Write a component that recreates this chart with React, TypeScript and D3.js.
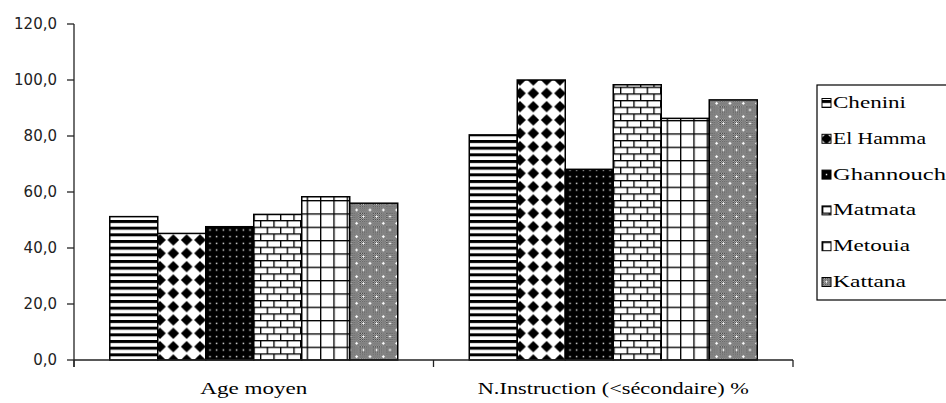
import React from 'react';
import * as d3 from 'd3';

const categories = ['Age moyen', 'N.Instruction (<sécondaire) %'];
const series = ['Chenini', 'El Hamma', 'Ghannouch', 'Matmata', 'Metouia', 'Kattana'];
const ageMoyen = [51.2, 45.2, 47.6, 52.0, 58.3, 56.0];
const instruction = [80.4, 100.0, 68.1, 98.3, 86.3, 92.9];
const yTicks = [0, 20, 40, 60, 80, 100, 120];

const W = 946;
const H = 403;
const LEFT = 74;
const RIGHT = 793;
const TOP = 24;
const BASE = 360;

const catLabelWidths = [107, 271];
const legendLabelWidths = [73, 93, 113, 83, 77, 73];
const keyOffsets = [[0, -1.5], [-4.5, -4.5], [-1.17, -1.17], [0, 0], [0, 0], [-1, -1]];
const SERIF = 'Liberation Serif';

const fmt = (v: number) => d3.format('.1f')(v).replace('.', ',');

function Patterns() {
  const P = 6.667;
  const Q = 13.333;
  const lw = 1.33;
  return (
    <defs>
      <pattern id="p0" patternUnits="userSpaceOnUse" width={10} height={P}>
        <rect width={10} height={P} fill="#fff" />
        <rect width={10} height={3} fill="#000" />
      </pattern>
      <pattern id="p1" patternUnits="userSpaceOnUse" width={Q} height={Q}>
        <rect width={Q} height={Q} fill="#fff" />
        {[[0, 0], [Q, 0], [0, Q], [Q, Q]].map(([cx, cy], i) => (
          <path key={i} d={`M${cx - 5.8},${cy} L${cx},${cy - 5.8} L${cx + 5.8},${cy} L${cx},${cy + 5.8} Z`} fill="#000" />
        ))}
      </pattern>
      <pattern id="p2" patternUnits="userSpaceOnUse" width={P} height={P}>
        <rect width={P} height={P} fill="#000" />
        <rect x={P / 2 - 0.7} y={P / 2 - 0.7} width={1.4} height={1.4} fill="#fff" />
      </pattern>
      <pattern id="p3" patternUnits="userSpaceOnUse" width={Q} height={Q}>
        <rect width={Q} height={Q} fill="#fff" />
        <rect x={0} y={0} width={Q} height={lw} fill="#000" />
        <rect x={0} y={P} width={Q} height={lw} fill="#000" />
        <rect x={0} y={0} width={lw} height={P} fill="#000" />
        <rect x={P} y={P} width={lw} height={P} fill="#000" />
      </pattern>
      <pattern id="p4" patternUnits="userSpaceOnUse" width={Q} height={Q}>
        <rect width={Q} height={Q} fill="#fff" />
        <rect x={0} y={0} width={Q} height={lw} fill="#000" />
        <rect x={0} y={0} width={lw} height={Q} fill="#000" />
      </pattern>
      <pattern id="chk" patternUnits="userSpaceOnUse" width={2} height={2}>
        <rect width={2} height={2} fill="#fff" />
        <rect x={0} y={0} width={1} height={1} fill="#000" />
        <rect x={1} y={1} width={1} height={1} fill="#000" />
      </pattern>
      <pattern id="p5" patternUnits="userSpaceOnUse" width={Q} height={Q}>
        <rect width={Q} height={Q} fill="url(#chk)" />
        {[[3.33, 3.33], [10, 10]].map(([cx, cy], i) => (
          <g key={i} fill="#fff">
            <rect x={cx - 1.5} y={cy - 0.5} width={3} height={1} />
            <rect x={cx - 0.5} y={cy - 1.5} width={1} height={3} />
          </g>
        ))}
      </pattern>
    </defs>
  );
}

export default function App() {
  const y = d3.scaleLinear().domain([0, 120]).range([BASE, TOP]);
  const x0 = d3.scaleBand<string>().domain(categories).range([LEFT, RIGHT]).padding(0);
  const x1 = d3
    .scaleBand<string>()
    .domain(series)
    .range([0, x0.bandwidth()])
    .paddingInner(0)
    .paddingOuter(0.745);
  const data = [ageMoyen, instruction];
  const boundaries = [LEFT, ...categories.map((c) => (x0(c) as number) + x0.bandwidth())];

  const legendX = 817;
  const legendTop = 85;
  const legendBottom = 300;
  const legendBase0 = 108;
  const legendStep = 35.8;

  return (
    <svg
      width={W}
      height={H}
      style={{ position: 'absolute', left: 0, top: 0, background: '#fff' }}
    >
      <Patterns />
      <rect width={W} height={H} fill="#fff" />

      {categories.map((c, ci) =>
        series.map((s, si) => {
          const bx = (x0(c) as number) + (x1(s) as number);
          const by = y(data[ci][si]);
          return (
            <rect
              key={`${ci}-${si}`}
              x={bx}
              y={by}
              width={x1.bandwidth()}
              height={BASE - by}
              fill={`url(#p${si})`}
              stroke="#000"
              strokeWidth={1.5}
            />
          );
        })
      )}

      <line x1={LEFT} y1={TOP} x2={LEFT} y2={BASE + 7} stroke="#222" strokeWidth={1.3} />
      {yTicks.map((t) => (
        <g key={t}>
          <line x1={LEFT - 7} x2={LEFT} y1={y(t)} y2={y(t)} stroke="#222" strokeWidth={1.3} />
          <text
            x={57}
            y={y(t)}
            dy="0.36em"
            textAnchor="end"
            fontFamily="DejaVu Sans"
            fontSize={15}
            fill="#222"
          >
            {fmt(t)}
          </text>
        </g>
      ))}

      <line x1={LEFT} y1={BASE} x2={RIGHT} y2={BASE} stroke="#222" strokeWidth={1.3} />
      {boundaries.map((bx, i) => (
        <line key={i} x1={bx} x2={bx} y1={BASE} y2={BASE + 7} stroke="#222" strokeWidth={1.3} />
      ))}
      {categories.map((c, ci) => (
        <text
          key={c}
          x={(x0(c) as number) + x0.bandwidth() / 2}
          y={394}
          textAnchor="middle"
          fontFamily={SERIF}
          fontSize={16}
          textLength={catLabelWidths[ci]}
          lengthAdjust="spacingAndGlyphs"
          fill="#000"
        >
          {c}
        </text>
      ))}

      <rect
        x={legendX}
        y={legendTop}
        width={140}
        height={legendBottom - legendTop}
        fill="#fff"
        stroke="#000"
        strokeWidth={1.2}
      />
      {series.map((s, si) => {
        const base = legendBase0 + si * legendStep;
        const [ox, oy] = keyOffsets[si];
        return (
          <g key={s}>
            <g transform={`translate(${822 - ox},${base - 9.5 - oy})`}>
              <rect x={ox} y={oy} width={9} height={9} fill={`url(#p${si})`} stroke="#000" strokeWidth={1} />
            </g>
            <text
              x={833}
              y={base}
              fontFamily={SERIF}
              fontSize={16}
              textLength={legendLabelWidths[si]}
              lengthAdjust="spacingAndGlyphs"
              fill="#000"
            >
              {s}
            </text>
          </g>
        );
      })}
    </svg>
  );
}
